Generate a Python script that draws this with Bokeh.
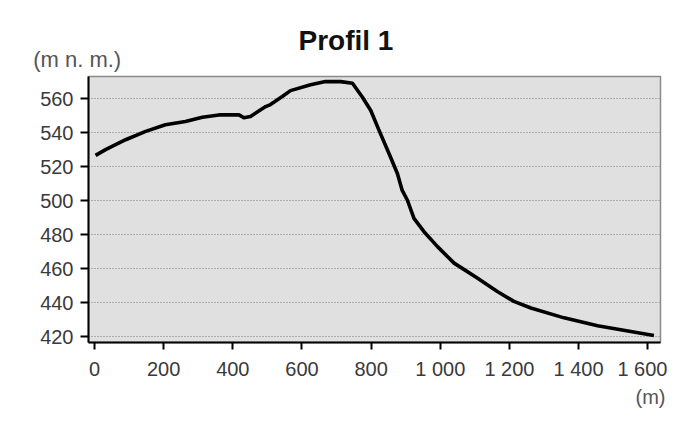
from bokeh.plotting import figure
from bokeh.models import Range1d, FixedTicker, Title
from bokeh.embed import file_html
from bokeh.resources import INLINE

# Profile data (distance in m, elevation in m n. m.)
distance = [3, 32, 90, 148, 205, 263, 312, 360, 418, 432, 451, 495, 509, 543, 567,
            625, 668, 712, 746, 775, 799, 823, 852, 876, 890, 905, 924, 953, 992,
            1040, 1107, 1165, 1213, 1262, 1358, 1455, 1551, 1618]
elevation = [526.6, 530.0, 535.8, 540.7, 544.6, 546.5, 549.0, 550.4, 550.4, 548.7,
             549.5, 555.3, 556.5, 561.2, 564.7, 568.2, 570.1, 570.0, 569.0, 560.8,
             553.0, 541.3, 527.6, 515.9, 506.0, 500.2, 489.5, 481.7, 472.9, 463.2,
             454.4, 446.5, 440.7, 436.8, 431.0, 426.4, 423.0, 420.6]

x_ticks = [0, 200, 400, 600, 800, 1000, 1200, 1400, 1600]
x_tick_labels = ["0", "200", "400", "600", "800", "1 000", "1 200", "1 400", "1 600"]
y_ticks = [420, 440, 460, 480, 500, 520, 540, 560]

title_text = "Profil 1"
y_unit = "(m n. m.)"
x_unit = "(m)"

FONT = "Liberation Sans"

p = figure(width=667, height=425, output_backend="svg", toolbar_location=None,
           title=None,
           x_range=Range1d(-17.4, 1637), y_range=Range1d(416.5, 573),
           min_border_left=88, min_border_right=7, min_border_top=76,
           min_border_bottom=83)

p.background_fill_color = "#e0e0e0"
p.border_fill_color = "white"
p.outline_line_color = "#8a8a8a"
p.outline_line_width = 1.5

p.line(distance, elevation, line_color="black", line_width=3.6, line_join="round")

for ax in (p.xaxis[0], p.yaxis[0]):
    ax.axis_line_color = "black"
    ax.axis_line_width = 2
    ax.major_tick_line_color = "black"
    ax.major_tick_line_width = 2
    ax.major_tick_in = 0
    ax.major_tick_out = 7
    ax.minor_tick_line_color = None
    ax.major_label_text_font = FONT
    ax.major_label_text_font_size = "20px"
    ax.major_label_text_color = "#3a3a3a"

p.xaxis.ticker = FixedTicker(ticks=x_ticks)
p.xaxis.major_label_overrides = {t: l for t, l in zip(x_ticks, x_tick_labels)}
p.xaxis.major_label_standoff = 8
p.yaxis.ticker = FixedTicker(ticks=y_ticks)
p.yaxis.major_label_standoff = 7
p.yaxis.major_tick_out = 8

p.xgrid.grid_line_color = None
p.ygrid.grid_line_color = "#7a7a7a"
p.ygrid.grid_line_dash = "1 2"
p.ygrid.grid_line_width = 1

p.add_layout(Title(text=y_unit, align="left", offset=-55.3, standoff=9,
                   text_font=FONT, text_font_size="22px",
                   text_font_style="normal", text_color="#555555"), "above")
p.add_layout(Title(text=title_text, align="left", offset=210, standoff=-30,
                   text_font=FONT, text_font_size="28px",
                   text_font_style="bold", text_color="#111111"), "above")
p.add_layout(Title(text=x_unit, align="right", offset=-5, standoff=6,
                   vertical_align="top",
                   text_font=FONT, text_font_size="20px",
                   text_font_style="normal", text_color="#555555"), "below")

open("out.html", "w").write(file_html(p, INLINE))
